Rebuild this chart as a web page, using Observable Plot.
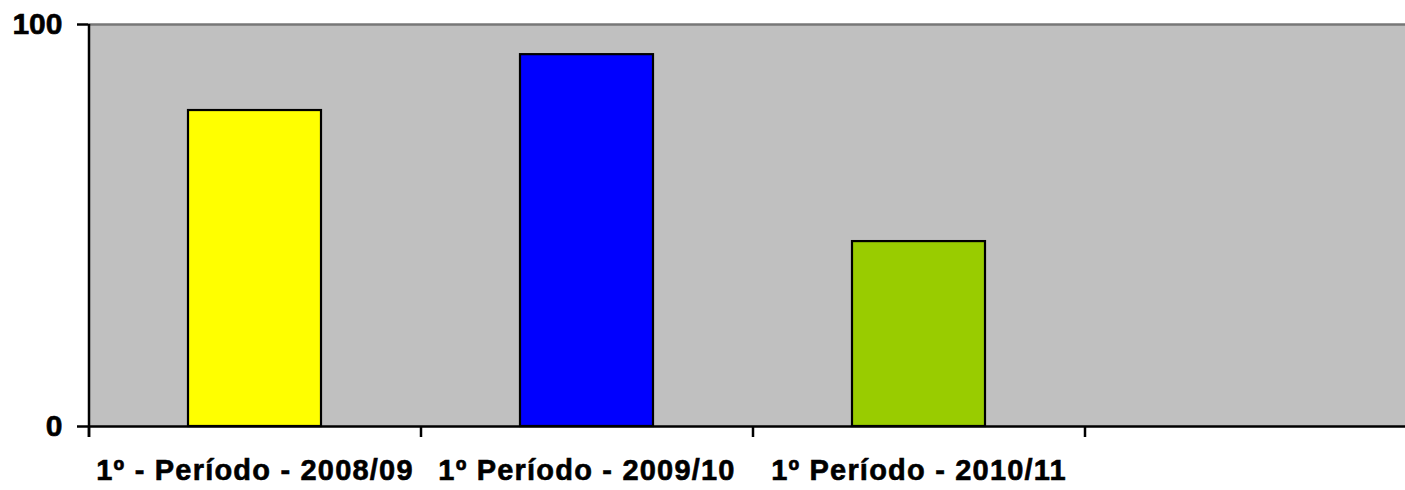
<!DOCTYPE html>
<html>
<head>
<meta charset="utf-8">
<script src="https://cdn.jsdelivr.net/npm/d3@7"></script>
<script src="https://cdn.jsdelivr.net/npm/@observablehq/plot@0.6"></script>
<style>
  html, body { margin: 0; padding: 0; background: #fff; overflow: hidden; }
  #chart svg { display: block; overflow: hidden; }
  g[aria-label="x-axis tick label"] { letter-spacing: 1.2px; }
  g[aria-label="x-axis tick label"], g[aria-label="y-axis tick label"] { stroke: #000; stroke-width: 0.6px; }
</style>
</head>
<body>
<div id="chart"></div>
<script>
const categories = ["1º - Período - 2008/09", "1º Período - 2009/10", "1º Período - 2010/11", " "];
const periods = ["1º - Período - 2008/09", "1º Período - 2009/10", "1º Período - 2010/11"];
const values = [78.6, 92.5, 46.0];
const colors = ["#FFFF00", "#0000FF", "#99CC00"];
const yTicks = [0, 100];

const data = periods.map((p, i) => ({period: p, value: values[i], color: colors[i]}));

const W = 1405, H = 490, mL = 88, mR = -11, mT = 24, mB = 64;
const step = (W - mL - mR) / categories.length;
const plotH = H - mT - mB;

const chart = Plot.plot({
  width: W,
  height: H,
  marginLeft: mL,
  marginRight: mR,
  marginTop: mT,
  marginBottom: mB,
  style: {fontFamily: "'Liberation Sans', Arial, sans-serif", background: "#fff", color: "#000"},
  x: {domain: categories, paddingInner: 0.6, paddingOuter: 0.3, label: null},
  y: {domain: [0, 100], label: null},
  marks: [
    Plot.frame({fill: "#C0C0C0", stroke: null}),
    Plot.ruleY([100], {stroke: "#777777", strokeWidth: 2.5}),
    Plot.barY(data, {x: "period", y: "value", fill: "color", stroke: "#000", strokeWidth: 2.2}),
    Plot.ruleY([0], {stroke: "#000", strokeWidth: 2.5}),
    Plot.ruleX(categories, {x: d => d, dx: -step / 2, insetTop: plotH, insetBottom: -11, stroke: "#000", strokeWidth: 2.5}),
    Plot.ruleX([categories[0]], {x: d => d, dx: -step / 2, insetBottom: -11, stroke: "#000", strokeWidth: 2.5}),
    Plot.axisY({ticks: yTicks, tickSize: 11, tickPadding: 15, fontSize: 30, fontWeight: "bold", strokeWidth: 2.5, tickFormat: d => String(d), label: null}),
    Plot.axisX({tickSize: 0, tickPadding: 33, fontSize: 29, fontWeight: "bold", label: null})
  ]
});
document.getElementById("chart").appendChild(chart);
</script>
</body>
</html>
